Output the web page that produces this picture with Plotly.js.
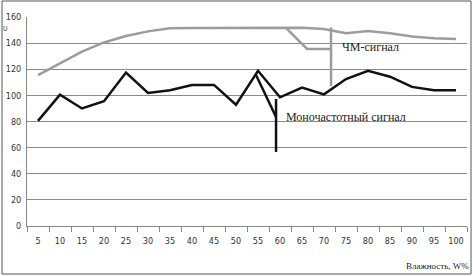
<!DOCTYPE html>
<html><head><meta charset="utf-8">
<script src="https://cdn.plot.ly/plotly-3.0.1.min.js"></script>
<style>body{margin:0;background:#fff}#c{width:473px;height:276px}</style>
</head><body><div id="c"></div>
<script>
const categories = ["5","10","15","20","25","30","35","40","45","50","55","60","65","70","75","80","85","90","95","100"];
const fmSignal = [115.5,124.5,133.5,140.5,145.5,149,151.3,151.5,151.5,151.5,151.5,152,151.8,150.8,147.5,149.3,147.5,145,143.7,143.2];
const monoSignal = [80.5,100.5,90,95.5,117.5,101.8,104,108,108,92.8,118.8,98.5,106,100.8,112.5,118.8,114.3,106.5,104,104];
const fmLabel = "ЧМ-сигнал";
const monoLabel = "Моночастотный сигнал";
const xTitle = "Влажность, W%";
const yTitle = "U";

const tickFont = {family: "DejaVu Sans Condensed, Liberation Sans Narrow, Liberation Sans", size: 9, color: "#333"};
const data = [
  {x: categories, y: fmSignal, type: "scatter", mode: "lines", line: {color: "#9c9c9c", width: 2.5}, hoverinfo: "skip"},
  {x: categories, y: monoSignal, type: "scatter", mode: "lines", line: {color: "#111", width: 2.5}, hoverinfo: "skip"}
];
const px = v => (v - 27) / 440;
const py = v => (226 - v) / 209;
const layout = {
  width: 473, height: 276,
  margin: {l: 27, r: 6, t: 17, b: 50},
  paper_bgcolor: "#fff", plot_bgcolor: "#fff",
  showlegend: false,
  xaxis: {type: "category", range: [-0.5, 19.5], showgrid: false, showline: true, linecolor: "#888", linewidth: 1,
          ticks: "outside", tickson: "boundaries", ticklen: 5, tickcolor: "#888", tickfont: tickFont, tickangle: 0, ticklabelstandoff: 6},
  yaxis: {range: [0, 160], dtick: 20, showgrid: true, gridcolor: "#8a8a8a", gridwidth: 1, showline: true, linecolor: "#888",
          zeroline: false, ticks: "", tickfont: tickFont, ticklabelstandoff: 3},
  shapes: [
    {type: "rect", xref: "paper", yref: "paper", x0: px(2), x1: px(471), y0: py(274), y1: py(1), line: {color: "#555", width: 1}},
    {type: "path", xref: "x", yref: "y", path: "M 11.27,151.6 L 12.23,135.5 L 13.32,135.5", line: {color: "#9c9c9c", width: 2.5}},
    {type: "line", xref: "x", yref: "y", x0: 13.32, x1: 13.32, y0: 152, y1: 107.2, line: {color: "#9c9c9c", width: 2.5}},
    {type: "line", xref: "x", yref: "y", x0: 9.91, x1: 10.82, y0: 115.6, y1: 83.5, line: {color: "#111", width: 2.5}},
    {type: "line", xref: "x", yref: "y", x0: 10.82, x1: 10.82, y0: 97.2, y1: 56.7, line: {color: "#111", width: 2.5}}
  ],
  annotations: [
    {text: fmLabel, xref: "x", yref: "y", x: 13.73, y: 137, xanchor: "left", yanchor: "middle", showarrow: false,
     font: {family: "Liberation Serif, Times New Roman", size: 12, color: "#222"}},
    {text: monoLabel, xref: "x", yref: "y", x: 11.2, y: 83.5, xanchor: "left", yanchor: "middle", showarrow: false,
     font: {family: "Liberation Serif, Times New Roman", size: 12, color: "#222"}},
    {text: xTitle, xref: "paper", yref: "paper", x: px(471), y: py(266), xanchor: "right", yanchor: "middle", showarrow: false,
     font: {family: "Liberation Serif, Times New Roman", size: 9, color: "#222"}},
    {text: yTitle, xref: "paper", yref: "paper", x: px(2), y: py(29), xanchor: "left", yanchor: "middle", showarrow: false,
     borderpad: 0, font: {family: "DejaVu Sans Condensed, Liberation Sans", size: 7, color: "#333"}}
  ]
};
Plotly.newPlot("c", data, layout, {staticPlot: true, displayModeBar: false});
</script></body></html>
